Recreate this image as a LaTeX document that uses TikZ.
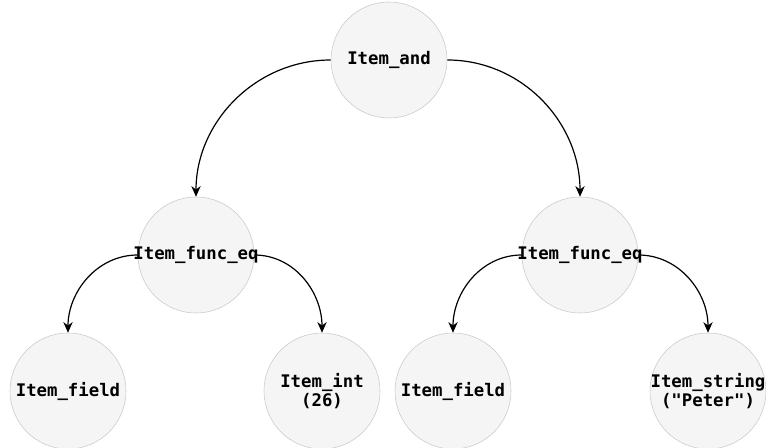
\documentclass[tikz,border=0pt]{standalone}
\usepackage{fontspec}
\setmonofont{DejaVu Sans Mono}
\usetikzlibrary{arrows.meta}
\definecolor{nodefill}{HTML}{F5F5F5}
\definecolor{nodeline}{HTML}{C8C8C8}
\tikzstyle{item} = [circle, draw=nodeline, line width=0.4pt, fill=nodefill, minimum size=87pt, inner sep=0pt, font=\ttfamily\bfseries\fontsize{13}{14.5}\selectfont, align=center]
\tikzstyle{link} = [-{Stealth[length=8pt,width=7pt]}, line width=0.9pt]

\begin{document}
\begin{tikzpicture}[x=0.75pt, y=-0.75pt]
    \useasboundingbox (0,0) rectangle (766,448);
    % wurzel
    \node[item] (and) at (389,60) {Item\_and};
    % vergleiche
    \node[item] (eqleft) at (196,255) {\makebox[0pt]{Item\_func\_eq}};
    \node[item] (eqright) at (580,255) {\makebox[0pt]{Item\_func\_eq}};
    % blaetter
    \node[item] (fieldleft) at (68,391) {Item\_field};
    \node[item] (int) at (322,391) {Item\_int\\(26)};
    \node[item] (fieldright) at (453,391) {Item\_field};
    \node[item] (string) at (708,391) {\makebox[0pt]{Item\_string}\\("Peter")};

    % kanten
    \draw[link] (and.west) to[out=180, in=90] (eqleft.north);
    \draw[link] (and.east) to[out=0, in=90] (eqright.north);
    \draw[link] (eqleft.west) to[out=180, in=90] (fieldleft.north);
    \draw[link] (eqleft.east) to[out=0, in=90] (int.north);
    \draw[link] (eqright.west) to[out=180, in=90] (fieldright.north);
    \draw[link] (eqright.east) to[out=0, in=90] (string.north);
\end{tikzpicture}
\end{document}
